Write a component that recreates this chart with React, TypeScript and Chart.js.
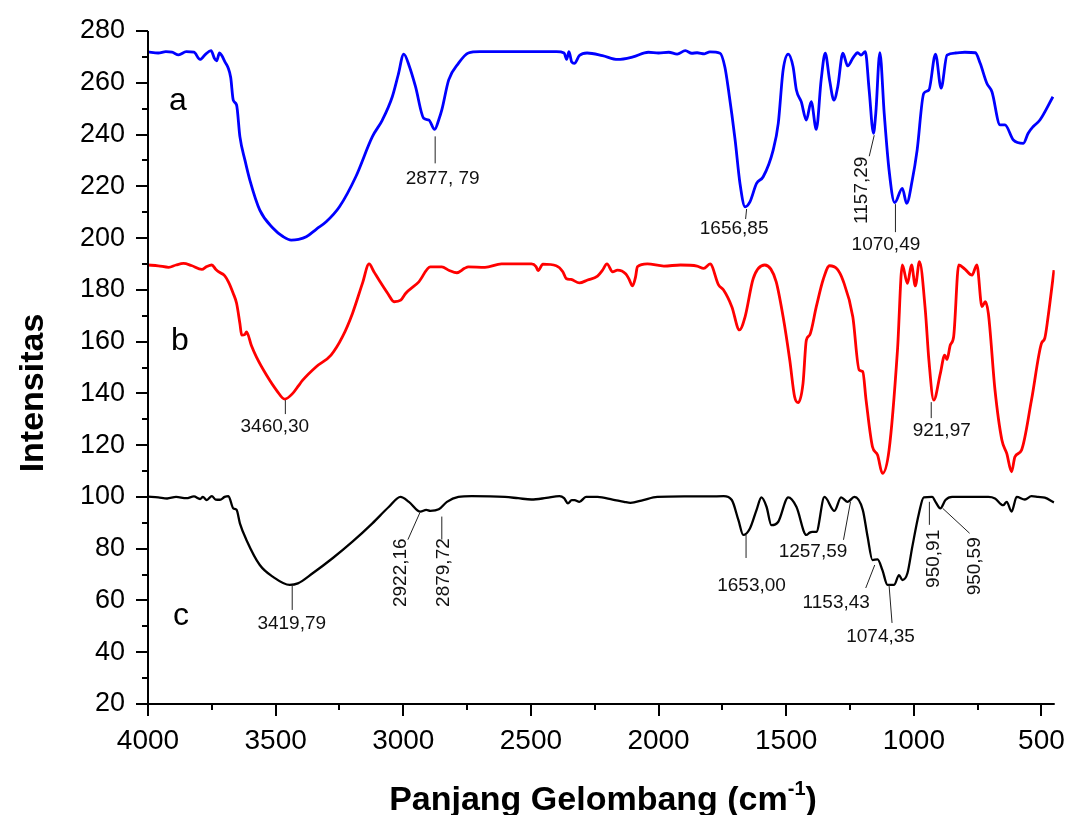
import React, { useEffect, useRef } from 'react';
import { Chart, registerables } from 'chart.js';

Chart.register(...registerables);

// ---------- data ----------
const waveA = [4000, 3960, 3930, 3906, 3880, 3850, 3820, 3796, 3775, 3753, 3740, 3731, 3720, 3711, 3698, 3687, 3676, 3666, 3653, 3640, 3620, 3601, 3562, 3510, 3470, 3439, 3410, 3380, 3340, 3302, 3250, 3186, 3121, 3082, 3043, 3020, 2998, 2975, 2952, 2920, 2900, 2877, 2860, 2849, 2822, 2784, 2745, 2700, 2600, 2500, 2400, 2370, 2360, 2351, 2340, 2330, 2310, 2280, 2220, 2160, 2100, 2040, 2000, 1960, 1927, 1895, 1870, 1849, 1820, 1799, 1759, 1740, 1726, 1700, 1681, 1661, 1642, 1616, 1590, 1551, 1531, 1512, 1492, 1473, 1460, 1441, 1421, 1402, 1382, 1363, 1347, 1330, 1313, 1298, 1278, 1259, 1239, 1220, 1207, 1190, 1175, 1158, 1149, 1133, 1116, 1097, 1075, 1045, 1028, 1006, 987, 961, 941, 915, 893, 870, 837, 800, 759, 740, 714, 694, 662, 643, 610, 571, 552, 533, 506, 455];
const intA = [271.9, 271.5, 272.0, 271.8, 270.8, 272.0, 271.8, 269.0, 271.0, 272.4, 269.5, 268.5, 271.5, 270.5, 268.0, 266.0, 262.0, 253.3, 251.4, 239.2, 230.0, 222.4, 210.8, 203.8, 200.5, 199.2, 199.5, 200.5, 203.5, 206.3, 212.1, 223.7, 239.2, 245.6, 254.6, 263.0, 271.1, 266.0, 258.5, 246.3, 245.6, 242.0, 246.0, 249.5, 261.1, 267.5, 271.5, 272.0, 272.0, 272.0, 272.0, 271.5, 269.0, 272.0, 268.0, 267.5, 270.5, 271.5, 270.5, 269.0, 270.0, 271.8, 271.5, 271.8, 271.1, 272.4, 271.4, 271.6, 271.2, 271.9, 271.4, 266.0, 257.2, 237.9, 221.1, 212.1, 214.0, 221.1, 223.7, 234.0, 244.3, 264.9, 271.1, 266.2, 257.2, 252.7, 245.6, 252.7, 242.0, 261.1, 271.4, 261.1, 253.3, 258.5, 271.4, 266.5, 269.5, 271.6, 270.7, 272.0, 257.2, 240.5, 248.2, 271.6, 248.2, 226.3, 213.7, 219.2, 213.4, 222.4, 234.0, 255.9, 257.2, 271.1, 257.9, 270.7, 271.5, 271.8, 271.6, 267.5, 259.8, 256.5, 243.7, 243.7, 237.9, 236.6, 240.5, 243.0, 245.6, 254.6];

const waveB = [4000, 3960, 3919, 3890, 3861, 3830, 3789, 3770, 3750, 3735, 3724, 3700, 3685, 3666, 3653, 3640, 3633, 3620, 3614, 3595, 3575, 3536, 3497, 3464, 3433, 3410, 3394, 3341, 3283, 3238, 3199, 3160, 3134, 3115, 3095, 3060, 3036, 3010, 2991, 2939, 2894, 2849, 2820, 2790, 2760, 2745, 2680, 2615, 2498, 2480, 2472, 2453, 2401, 2375, 2362, 2343, 2310, 2278, 2239, 2220, 2202, 2180, 2161, 2128, 2115, 2102, 2090, 2083, 2044, 1979, 1914, 1849, 1823, 1798, 1765, 1746, 1713, 1683, 1661, 1629, 1584, 1560, 1539, 1512, 1486, 1467, 1453, 1434, 1421, 1408, 1382, 1355, 1330, 1300, 1278, 1239, 1214, 1200, 1187, 1162, 1142, 1123, 1097, 1064, 1045, 1025, 1009, 994, 978, 955, 941, 922, 896, 879, 870, 857, 844, 824, 800, 772, 753, 733, 720, 708, 682, 655, 636, 617, 604, 578, 539, 500, 487, 474, 451];
const intB = [189.6, 189.3, 188.7, 189.6, 190.2, 189.4, 187.9, 189.0, 189.6, 188.0, 187.0, 185.5, 183.1, 178.6, 174.8, 167.0, 162.5, 162.8, 163.8, 158.5, 154.0, 147.1, 141.3, 137.8, 140.0, 143.0, 145.1, 150.3, 154.8, 161.9, 170.9, 182.5, 190.0, 187.0, 183.8, 178.5, 175.4, 176.0, 178.6, 183.1, 188.9, 188.9, 187.5, 186.6, 188.3, 188.9, 188.7, 190.0, 190.0, 189.0, 187.4, 189.9, 189.3, 187.0, 184.4, 184.0, 182.7, 183.8, 185.3, 187.5, 190.0, 187.0, 187.6, 186.1, 184.0, 181.5, 185.0, 188.9, 190.0, 189.2, 189.6, 189.2, 188.3, 190.0, 181.9, 180.0, 173.5, 164.5, 169.6, 184.4, 189.6, 188.0, 183.1, 169.6, 152.9, 138.7, 136.4, 143.9, 160.6, 162.5, 173.5, 184.0, 189.3, 188.0, 183.8, 169.6, 149.0, 148.4, 137.4, 119.4, 116.2, 109.1, 118.1, 156.7, 189.6, 182.5, 189.6, 181.5, 190.9, 172.2, 152.9, 137.4, 147.7, 154.8, 153.1, 158.7, 161.9, 189.6, 188.0, 185.7, 189.6, 173.5, 175.4, 170.9, 141.3, 122.0, 116.8, 109.7, 115.5, 118.1, 137.4, 159.3, 161.3, 169.6, 187.6];

const waveC = [4000, 3960, 3925, 3890, 3850, 3820, 3796, 3785, 3770, 3750, 3735, 3718, 3700, 3685, 3666, 3653, 3640, 3614, 3562, 3510, 3445, 3413, 3355, 3277, 3199, 3121, 3056, 3011, 2978, 2933, 2910, 2894, 2861, 2829, 2784, 2732, 2602, 2550, 2498, 2440, 2388, 2370, 2355, 2340, 2329, 2310, 2284, 2239, 2180, 2135, 2110, 2060, 2005, 1900, 1800, 1745, 1713, 1687, 1668, 1642, 1616, 1597, 1577, 1558, 1531, 1492, 1460, 1421, 1408, 1398, 1382, 1350, 1311, 1285, 1259, 1233, 1200, 1181, 1162, 1142, 1123, 1103, 1077, 1058, 1045, 1025, 1006, 980, 961, 928, 915, 896, 876, 850, 780, 708, 682, 650, 636, 617, 597, 565, 539, 513, 487, 451];
const intC = [100.1, 99.8, 99.4, 100.0, 99.5, 100.2, 99.2, 100.0, 98.8, 100.3, 99.0, 98.9, 100.0, 100.3, 95.6, 95.0, 89.8, 83.3, 73.7, 69.1, 66.0, 66.6, 70.5, 76.3, 82.7, 89.8, 96.2, 100.0, 98.1, 94.3, 95.0, 94.6, 95.2, 98.1, 100.0, 100.3, 100.0, 99.5, 99.0, 99.6, 100.3, 99.5, 97.5, 98.8, 98.8, 98.1, 100.0, 100.0, 99.0, 98.1, 97.7, 98.8, 100.0, 100.2, 100.2, 100.3, 98.8, 91.0, 85.3, 87.8, 95.0, 99.8, 96.2, 89.1, 90.4, 99.8, 96.2, 85.3, 86.2, 86.5, 86.5, 100.0, 94.6, 99.8, 98.1, 100.0, 95.0, 84.6, 75.6, 75.9, 71.7, 66.0, 66.0, 69.8, 67.9, 70.5, 80.7, 93.6, 99.8, 100.0, 98.1, 95.6, 98.8, 100.0, 100.0, 100.0, 99.4, 96.8, 98.1, 94.3, 100.0, 99.0, 100.3, 100.0, 99.7, 97.9];

const xTicks = [4000, 3500, 3000, 2500, 2000, 1500, 1000, 500];
const yTicks = [20, 40, 60, 80, 100, 120, 140, 160, 180, 200, 220, 240, 260, 280];
const seriesNames = ['a', 'b', 'c'];
const seriesColors = ['#0000ff', '#ff0000', '#000000'];

const xTitle = 'Panjang Gelombang (cm';
const xTitleSup = '-1';
const yTitle = 'Intensitas';

// peak annotations: anchor in data units
type Ann = { text: string; x: number; y: number; l1: [number, number]; l2: [number, number]; t: [number, number]; rot?: boolean };
const annotations: Ann[] = [
  { text: '2877, 79', x: 2877, y: 242, l1: [0, 7], l2: [0, 34], t: [8, 49] },
  { text: '1656,85', x: 1657, y: 212, l1: [0, 2], l2: [-1, 12], t: [-12, 22] },
  { text: '1157,29', x: 1157, y: 240.5, l1: [0, 2], l2: [-5, 23], t: [-12, 57], rot: true },
  { text: '1070,49', x: 1070, y: 213.5, l1: [-1, 1], l2: [-1, 29], t: [-10, 42] },
  { text: '3460,30', x: 3460, y: 137.8, l1: [-1, 1], l2: [-1, 15], t: [-11, 28] },
  { text: '921,97', x: 922, y: 137.4, l1: [-3, 2], l2: [-3, 18], t: [8, 31] },
  { text: '3419,79', x: 3437, y: 66, l1: [0, 1], l2: [0, 25], t: [0, 39] },
  { text: '2922,16', x: 2933, y: 94.3, l1: [-1, 1], l2: [-13, 28], t: [-20, 61], rot: true },
  { text: '2879,72', x: 2851, y: 95.5, l1: [0, 8], l2: [0, 31], t: [2, 64], rot: true },
  { text: '1653,00', x: 1667, y: 85.3, l1: [2, 0], l2: [2, 23], t: [8, 51] },
  { text: '1257,59', x: 1250, y: 98.1, l1: [0, 0], l2: [-7, 38], t: [-37, 50] },
  { text: '1153,43', x: 1155, y: 73.7, l1: [0, 0], l2: [-9, 23], t: [-38, 38] },
  { text: '1074,35', x: 1099, y: 66, l1: [0, 0], l2: [3, 38], t: [-8, 52] },
  { text: '950,91', x: 941, y: 98.1, l1: [0, 0], l2: [0, 23], t: [5, 57], rot: true },
  { text: '950,59', x: 889, y: 95.6, l1: [0, 0], l2: [27, 25], t: [33, 58], rot: true },
];

const FONT = 'Arial, "Liberation Sans", Helvetica, sans-serif';

const toPoints = (xs: number[], ys: number[]) => xs.map((x, i) => ({ x, y: ys[i] }));

const overlay = {
  id: 'overlay',
  afterDraw(chart: any) {
    const { ctx, chartArea: a } = chart;
    const xs = chart.scales.x;
    const ys = chart.scales.y;
    ctx.save();
    // axes lines
    ctx.strokeStyle = '#000';
    ctx.lineWidth = 2;
    ctx.beginPath();
    ctx.moveTo(a.left, a.top);
    ctx.lineTo(a.left, a.bottom + 1);
    ctx.moveTo(a.left - 1, a.bottom);
    ctx.lineTo(a.right, a.bottom);
    // major + minor ticks
    for (let i = 0; i < xTicks.length; i++) {
      const v = xTicks[i];
      const px = Math.round(xs.getPixelForValue(v));
      ctx.moveTo(px, a.bottom);
      ctx.lineTo(px, a.bottom + 12);
      const mv = v - 250;
      if (mv >= xs.min) {
        const mpx = Math.round(xs.getPixelForValue(mv));
        ctx.moveTo(mpx, a.bottom);
        ctx.lineTo(mpx, a.bottom + 6);
      }
    }
    for (let i = 0; i < yTicks.length; i++) {
      const v = yTicks[i];
      const py = Math.round(ys.getPixelForValue(v));
      ctx.moveTo(a.left, py);
      ctx.lineTo(a.left - 12, py);
      if (i < yTicks.length - 1) {
        const mpy = Math.round(ys.getPixelForValue(v + 10));
        ctx.moveTo(a.left, mpy);
        ctx.lineTo(a.left - 6, mpy);
      }
    }
    ctx.stroke();

    // series letters
    ctx.fillStyle = '#000';
    ctx.font = `32px ${FONT}`;
    ctx.textAlign = 'left';
    ctx.textBaseline = 'alphabetic';
    const letterPos = [[169, 110], [171, 350], [173, 625]];
    seriesNames.forEach((n, i) => ctx.fillText(n, letterPos[i][0], letterPos[i][1]));

    // annotations
    ctx.font = `19px ${FONT}`;
    ctx.strokeStyle = '#222';
    ctx.lineWidth = 1;
    ctx.fillStyle = '#111';
    annotations.forEach((an) => {
      const px = xs.getPixelForValue(an.x);
      const py = ys.getPixelForValue(an.y);
      ctx.beginPath();
      ctx.moveTo(px + an.l1[0] + 0.5, py + an.l1[1]);
      ctx.lineTo(px + an.l2[0] + 0.5, py + an.l2[1]);
      ctx.stroke();
      ctx.save();
      ctx.translate(px + an.t[0], py + an.t[1]);
      if (an.rot) ctx.rotate(-Math.PI / 2);
      ctx.textAlign = 'center';
      ctx.textBaseline = 'middle';
      ctx.fillText(an.text, 0, 0);
      ctx.restore();
    });

    // y title
    ctx.save();
    ctx.fillStyle = '#000';
    ctx.font = `bold 34px ${FONT}`;
    ctx.translate(34, 393);
    ctx.rotate(-Math.PI / 2);
    ctx.textAlign = 'center';
    ctx.textBaseline = 'middle';
    ctx.fillText(yTitle, 0, 0);
    ctx.restore();

    // x title with superscript
    ctx.fillStyle = '#000';
    ctx.textAlign = 'left';
    ctx.textBaseline = 'alphabetic';
    ctx.font = `bold 34px ${FONT}`;
    const w1 = ctx.measureText(xTitle).width;
    const w3 = ctx.measureText(')').width;
    ctx.font = `bold 20px ${FONT}`;
    const w2 = ctx.measureText(xTitleSup).width;
    const total = w1 + w2 + w3;
    let cx = 603 - total / 2;
    const base = 810;
    ctx.font = `bold 34px ${FONT}`;
    ctx.fillText(xTitle, cx, base);
    cx += w1;
    ctx.font = `bold 20px ${FONT}`;
    ctx.fillText(xTitleSup, cx, base - 15);
    cx += w2;
    ctx.font = `bold 34px ${FONT}`;
    ctx.fillText(')', cx, base);

    ctx.restore();
  },
};

export default function App() {
  const ref = useRef<HTMLCanvasElement>(null);
  useEffect(() => {
    if (!ref.current) return;
    const seriesData = [toPoints(waveA, intA), toPoints(waveB, intB), toPoints(waveC, intC)];
    const chart = new Chart(ref.current, {
      type: 'line',
      data: {
        datasets: seriesData.map((d, i) => ({
          label: seriesNames[i],
          data: d,
          borderColor: seriesColors[i],
          backgroundColor: seriesColors[i],
          borderWidth: i === 2 ? 2.3 : 2.8,
          pointRadius: 0,
          cubicInterpolationMode: 'monotone' as const,
          fill: false,
        })),
      },
      options: {
        animation: false,
        responsive: false,
        events: [],
        layout: { padding: { left: 0, right: 13, top: 31, bottom: 0 } },
        plugins: { legend: { display: false }, tooltip: { enabled: false }, title: { display: false } },
        scales: {
          x: {
            type: 'linear',
            reverse: true,
            min: 448,
            max: 4000,
            afterBuildTicks: (s: any) => { s.ticks = xTicks.map((v) => ({ value: v })); },
            afterFit: (s: any) => { s.height = 111; },
            ticks: { color: '#000', font: { family: FONT, size: 28 }, padding: 8, autoSkip: false, maxRotation: 0, includeBounds: false, callback: (v: any) => String(v) },
            grid: { display: false, drawTicks: true, tickLength: 12 },
            border: { display: false },
          },
          y: {
            type: 'linear',
            min: 20,
            max: 280,
            afterBuildTicks: (s: any) => { s.ticks = yTicks.map((v) => ({ value: v })); },
            afterFit: (s: any) => { s.width = 148; },
            ticks: { color: '#000', font: { family: FONT, size: 27 }, padding: 11, autoSkip: false, callback: (v: any) => String(v) },
            grid: { display: false, drawTicks: true, tickLength: 12 },
            border: { display: false },
          },
        },
      },
      plugins: [overlay],
    });
    return () => chart.destroy();
  }, []);
  return (
    <div style={{ position: 'absolute', left: 0, top: 0, width: 1073, height: 815, background: '#fff' }}>
      <canvas ref={ref} width={1073} height={815} style={{ display: 'block' }} />
    </div>
  );
}
